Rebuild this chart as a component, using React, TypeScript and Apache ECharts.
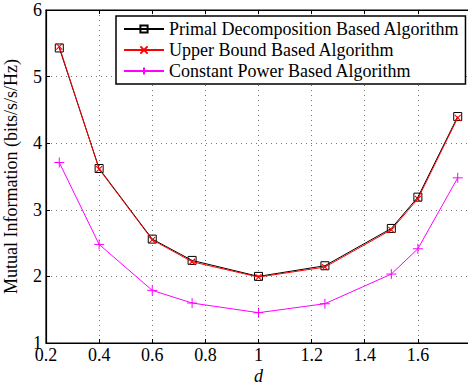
import React, { useEffect, useRef } from "react";
import * as echarts from "echarts";

const dValues = [0.25, 0.4, 0.6, 0.75, 1, 1.25, 1.5, 1.6, 1.75];
const primal = [5.43, 3.62, 2.56, 2.24, 2.0, 2.16, 2.72, 3.19, 4.4];
const upper = [5.45, 3.61, 2.55, 2.22, 1.99, 2.14, 2.7, 3.165, 4.38];
const constant = [3.71, 2.48, 1.79, 1.6, 1.455, 1.59, 2.035, 2.415, 3.48];
const seriesNames = [
  "Primal Decomposition Based Algorithm",
  "Upper Bound Based Algorithm",
  "Constant Power Based Algorithm",
];

const font = "Liberation Serif";

export default function App() {
  const ref = useRef<HTMLDivElement>(null);
  useEffect(() => {
    document.body.style.margin = "0";
    const chart = echarts.init(ref.current!, undefined, { renderer: "svg" });
    const toPairs = (ys: number[]) => dValues.map((x, i) => [x, ys[i]]);
    chart.setOption({
      animation: false,
      backgroundColor: "#fff",
      textStyle: { fontFamily: font },
      grid: {
        left: 46,
        top: 10,
        right: -3,
        bottom: 43,
        show: true,
        borderColor: "#000",
        borderWidth: 1.2,
        containLabel: false,
        outerBoundsMode: "none",
      },
      legend: {
        orient: "vertical",
        left: 116,
        top: 16,
        padding: [4, 6, 4, 7],
        itemWidth: 40,
        itemHeight: 9,
        itemGap: 3,
        borderColor: "#000",
        borderWidth: 1.5,
        backgroundColor: "#fff",
        textStyle: { fontFamily: font, fontSize: 18, lineHeight: 18, color: "#000" },
        data: seriesNames,
      },
      xAxis: [
        {
          type: "value",
          min: 0.2,
          max: 1.8,
          interval: 0.2,
          name: "d",
          nameLocation: "middle",
          nameGap: 26,
          nameMoveOverlap: false,
          nameTextStyle: {
            fontFamily: font,
            fontSize: 18,
            lineHeight: 14,
            fontStyle: "italic",
            color: "#000",
          },
          axisLine: { show: true, lineStyle: { color: "#000", width: 1.2 } },
          axisTick: { show: true, inside: true, length: 4, lineStyle: { color: "#000" } },
          axisLabel: {
            fontFamily: font,
            fontSize: 18,
            color: "#000",
            margin: 3,
            showMaxLabel: false,
          },
          splitLine: { show: true, lineStyle: { color: "#777", type: [1, 4], width: 1 } },
        },
        {
          type: "value",
          position: "top",
          min: 0.2,
          max: 1.8,
          interval: 0.2,
          axisLine: { show: true, lineStyle: { color: "#000", width: 1.2 } },
          axisTick: { show: true, inside: true, length: 4, lineStyle: { color: "#000" } },
          axisLabel: { show: false },
          splitLine: { show: false },
        },
      ],
      yAxis: {
        type: "value",
        min: 1,
        max: 6,
        interval: 1,
        name: "Mutual Information (bits/s/s/Hz)",
        nameLocation: "middle",
        nameGap: 26,
        nameMoveOverlap: false,
        nameTextStyle: { fontFamily: font, fontSize: 18, color: "#000" },
        axisLine: { show: true, lineStyle: { color: "#000", width: 1.2 } },
        axisTick: { show: true, inside: true, length: 4, lineStyle: { color: "#000" } },
        axisLabel: { fontFamily: font, fontSize: 18, color: "#000", margin: 4 },
        splitLine: { show: true, lineStyle: { color: "#777", type: [1, 4], width: 1 } },
      },
      series: [
        {
          name: seriesNames[0],
          type: "line",
          data: toPairs(primal),
          symbol: "path://M0,0L10,0L10,10L0,10Z",
          symbolSize: 8,
          itemStyle: { color: "rgba(255,255,255,0)", borderColor: "#000", borderWidth: 1 },
          lineStyle: { color: "#000", width: 1 },
          z: 2,
        },
        {
          name: seriesNames[1],
          type: "line",
          data: toPairs(upper),
          symbol: "path://M0,0L10,10M10,0L0,10",
          symbolSize: 6,
          itemStyle: { color: "#ff0000", borderColor: "#ff0000", borderWidth: 1.1 },
          lineStyle: { color: "#ff0000", width: 1 },
          z: 3,
        },
        {
          name: seriesNames[2],
          type: "line",
          data: toPairs(constant),
          symbol: "path://M5,0L5,10M0,5L10,5",
          symbolSize: 10,
          itemStyle: { color: "#ff00ff", borderColor: "#ff00ff", borderWidth: 1 },
          lineStyle: { color: "#ff00ff", width: 1 },
          z: 2,
        },
      ],
    });
    return () => chart.dispose();
  }, []);
  return <div ref={ref} style={{ width: 468, height: 386 }} />;
}
